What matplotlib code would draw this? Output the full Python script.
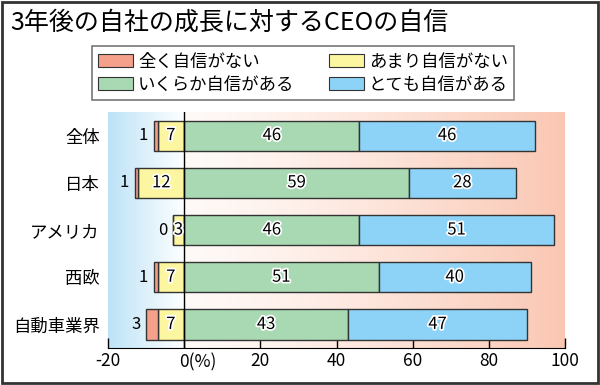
import matplotlib
matplotlib.use('Agg')
import numpy as np
import matplotlib.pyplot as plt
import matplotlib.patheffects as pe
from matplotlib.patches import Patch, Rectangle

plt.rcParams['font.family'] = ['Noto Sans CJK JP', 'DejaVu Sans']

# data (percent)
categories = ['全体', '日本', 'アメリカ', '西欧', '自動車業界']
not_at_all = [1, 1, 0, 1, 3]        # 全く自信がない
not_very = [7, 12, 3, 7, 7]         # あまり自信がない
somewhat = [46, 59, 46, 51, 43]     # いくらか自信がある
very = [46, 28, 51, 40, 47]         # とても自信がある
series_names = ['全く自信がない', 'あまり自信がない', 'いくらか自信がある', 'とても自信がある']
xticks = [-20, 0, 20, 40, 60, 80, 100]

colors = ['#f4a08a', '#fdf6a0', '#a9d9b3', '#8dd3f8']
edge = '#333333'

fig = plt.figure(figsize=(6, 3.85), dpi=100)
ax = fig.add_axes([0.18, 0.096, 0.762, 0.613])

y = np.arange(len(categories))

# background gradients: blue on the negative side, salmon on the positive side
t = np.linspace(0, 1, 200)
c0 = np.array([0.74, 0.89, 0.97])
c1 = np.array([1.0, 1.0, 1.0])
img_l = (c0[None, :] * (1 - t[:, None]) + c1[None, :] * t[:, None])[None, :, :]
ax.imshow(img_l, extent=[-20, 0, 4.5, -0.5], aspect='auto', zorder=0)
t2 = np.linspace(0, 1, 400) ** 1.3
d0 = np.array([1.0, 0.98, 0.97])
d1 = np.array([0.98, 0.78, 0.70])
img_r = (d0[None, :] * (1 - t2[:, None]) + d1[None, :] * t2[:, None])[None, :, :]
ax.imshow(img_r, extent=[0, 100, 4.5, -0.5], aspect='auto', zorder=0)
ax.set_xlim(-20, 100)
ax.set_ylim(4.5, -0.5)

h = 0.64
nv = -np.array(not_very)
na = -np.array(not_at_all)
ax.barh(y, nv, height=h, color=colors[1], edgecolor=edge, lw=1, zorder=2)
ax.barh(y, na, left=nv, height=h, color=colors[0], edgecolor=edge, lw=1, zorder=2)
ax.barh(y, somewhat, height=h, color=colors[2], edgecolor=edge, lw=1, zorder=2)
ax.barh(y, very, left=somewhat, height=h, color=colors[3], edgecolor=edge, lw=1, zorder=2)

halo = [pe.withStroke(linewidth=2.5, foreground='white')]
for i in range(len(categories)):
    ax.text(-not_very[i] / 2, i, str(not_very[i]), ha='center', va='center',
            fontsize=12, zorder=4, path_effects=halo)
    ax.text(-(not_very[i] + not_at_all[i]) - 1.5, i, str(not_at_all[i]),
            ha='right', va='center', fontsize=12, zorder=4)
    ax.text(somewhat[i] / 2, i, str(somewhat[i]), ha='center', va='center',
            fontsize=12, zorder=4, path_effects=halo)
    ax.text(somewhat[i] + very[i] / 2, i, str(very[i]), ha='center', va='center',
            fontsize=12, zorder=4, path_effects=halo)

ax.axvline(0, color='black', lw=1, zorder=3)

for s in ['top', 'right', 'left']:
    ax.spines[s].set_visible(False)
ax.spines['bottom'].set_color('black')
ax.set_yticks(y)
ax.set_yticklabels(categories, fontsize=12.5)
ax.tick_params(axis='y', length=0, pad=6)
ax.set_xticks(xticks)
ax.set_xticklabels([str(v) if v != 0 else '' for v in xticks], fontsize=12.5)
ax.tick_params(axis='x', direction='in', length=7, width=1, pad=3)
ax.annotate('0(%)', xy=(0, 0), xycoords=ax.get_xaxis_transform(),
            xytext=(-4, -3.5), textcoords='offset points', ha='left', va='top',
            fontsize=12.5)

fig.text(0.017, 0.94, '3年後の自社の成長に対するCEOの自信', fontsize=18,
         va='center', ha='left')

# legend filled row by row
order = [0, 2, 1, 3]
handles = [Patch(facecolor=colors[k], edgecolor=edge, lw=0.8) for k in order]
labels = [series_names[k] for k in order]
leg = fig.legend(handles, labels, ncol=2, loc='center',
                 bbox_to_anchor=(0.505, 0.81), fontsize=12.5, frameon=True,
                 fancybox=False, edgecolor='#555555', handlelength=2.0,
                 handleheight=0.75, handletextpad=0.3, columnspacing=2.0,
                 labelspacing=0.3, borderpad=0.35, borderaxespad=0)
leg.get_frame().set_linewidth(1.2)

fig.patches.append(Rectangle((0.004, 0.005), 0.992, 0.99, transform=fig.transFigure,
                             fill=False, edgecolor='#333333', lw=2))

fig.savefig('out.png', dpi=100)
